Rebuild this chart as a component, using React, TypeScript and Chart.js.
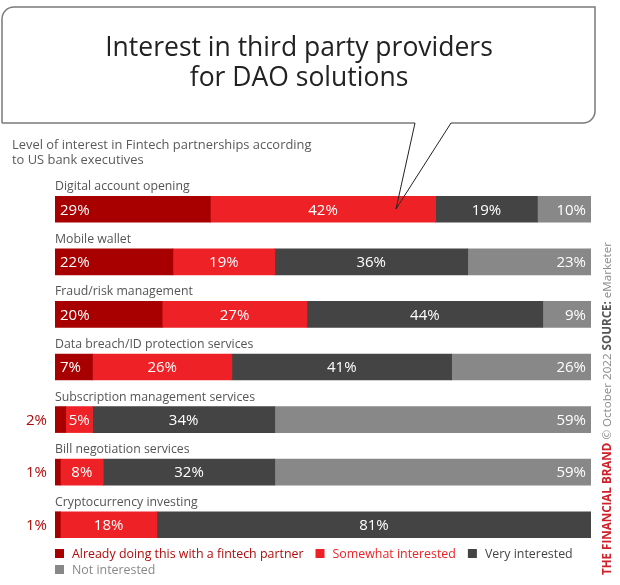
import React, { useEffect, useRef } from "react";
import { Chart, registerables } from "chart.js";

Chart.register(...registerables);

const categories = [
  "Digital account opening",
  "Mobile wallet",
  "Fraud/risk management",
  "Data breach/ID protection services",
  "Subscription management services",
  "Bill negotiation services",
  "Cryptocurrency investing",
];
const alreadyDoing = [29, 22, 20, 7, 2, 1, 1];
const somewhatInterested = [42, 19, 27, 26, 5, 8, 18];
const veryInterested = [19, 36, 44, 41, 34, 32, 81];
const notInterested = [10, 23, 9, 26, 59, 59, 0];
const seriesNames = [
  "Already doing this with a fintech partner",
  "Somewhat interested",
  "Very interested",
  "Not interested",
];
const seriesColors = ["#a80000", "#ee2226", "#444444", "#888888"];
const titleLines = ["Interest in third party providers", "for DAO solutions"];
const subtitleLines = [
  "Level of interest in Fintech partnerships according",
  "to US bank executives",
];
const sourceParts = [
  { text: "THE FINANCIAL BRAND", bold: true, color: "#d0202a" },
  { text: " \u00A9 October 2022 ", bold: false, color: "#8a8a8a" },
  { text: "SOURCE:", bold: true, color: "#555555" },
  { text: " eMarketer", bold: false, color: "#8a8a8a" },
];

const FONT = '"Open Sans", "DejaVu Sans", sans-serif';

export default function App() {
  const ref = useRef<HTMLCanvasElement>(null);

  useEffect(() => {
    document.body.style.margin = "0";
    const canvas = ref.current!;
    const values = [alreadyDoing, somewhatInterested, veryInterested, notInterested];

    const overlay = {
      id: "overlay",
      afterDatasetsDraw(chart: any) {
        const ctx: CanvasRenderingContext2D = chart.ctx;
        const area = chart.chartArea;
        ctx.save();

        // Speech bubble
        const L = 2, T = 7, R = 595, B = 123, r = 12;
        ctx.strokeStyle = "#7a7a7a";
        ctx.lineWidth = 1.5;
        ctx.beginPath();
        ctx.moveTo(L, B);
        ctx.lineTo(L, T + r);
        ctx.arcTo(L, T, L + r, T, r);
        ctx.lineTo(R, T);
        ctx.lineTo(R, B - r);
        ctx.arcTo(R, B, R - r, B, r);
        ctx.lineTo(451, B);
        ctx.stroke();
        ctx.beginPath();
        ctx.moveTo(415, B);
        ctx.lineTo(L, B);
        ctx.stroke();
        ctx.strokeStyle = "#222222";
        ctx.lineWidth = 1;
        ctx.beginPath();
        ctx.moveTo(451, B);
        ctx.lineTo(396, 209);
        ctx.lineTo(415, B);
        ctx.stroke();

        // Title
        ctx.fillStyle = "#222222";
        ctx.font = `400 26.5px ${FONT}`;
        ctx.textAlign = "center";
        ctx.textBaseline = "middle";
        titleLines.forEach((t, i) => ctx.fillText(t, 299, 48 + i * 30));

        // Subtitle
        ctx.fillStyle = "#5a5a5a";
        ctx.font = `400 12.9px ${FONT}`;
        ctx.textAlign = "left";
        subtitleLines.forEach((t, i) => ctx.fillText(t, 12, 145 + i * 15));

        // Category labels and data labels
        const metas = values.map((_, d) => chart.getDatasetMeta(d));
        categories.forEach((cat, i) => {
          const el0 = metas[0].data[i] as any;
          ctx.fillStyle = "#555555";
          ctx.font = `400 12.3px ${FONT}`;
          ctx.textAlign = "left";
          ctx.textBaseline = "middle";
          ctx.fillText(cat, area.left, el0.y - 22.5);

          ctx.font = `400 15px ${FONT}`;
          values.forEach((series, d) => {
            const v = series[i];
            if (!v) return;
            const el = metas[d].data[i] as any;
            const start = Math.min(el.base, el.x);
            const end = Math.max(el.base, el.x);
            const label = `${v}%`;
            ctx.fillStyle = "#ffffff";
            if (d === 0) {
              if (v < 5) {
                ctx.fillStyle = "#b00a0a";
                ctx.textAlign = "right";
                ctx.fillText(label, area.left - 8, el.y + 1);
              } else {
                ctx.textAlign = "left";
                ctx.fillText(label, start + 5, el.y + 1);
              }
            } else if (d === values.length - 1) {
              ctx.textAlign = "right";
              ctx.fillText(label, end - 5, el.y + 1);
            } else {
              ctx.textAlign = "center";
              ctx.fillText(label, (start + end) / 2, el.y + 1);
            }
          });
        });

        // Legend
        ctx.font = `400 12.4px ${FONT}`;
        ctx.textAlign = "left";
        ctx.textBaseline = "middle";
        let lx = area.left;
        let ly = 554;
        seriesNames.forEach((name, d) => {
          const w = ctx.measureText(name).width;
          if (lx + 17 + w > area.right) {
            lx = area.left;
            ly += 16;
          }
          ctx.fillStyle = seriesColors[d];
          ctx.fillRect(lx, ly - 5, 9, 9);
          ctx.fillStyle = d === 0 ? "#b00a0a" : seriesColors[d];
          ctx.fillText(name, lx + 17, ly);
          lx += 17 + w + 12;
        });

        // Vertical source text
        ctx.translate(608, 575);
        ctx.rotate(-Math.PI / 2);
        let sx = 0;
        sourceParts.forEach((p) => {
          ctx.font = `${p.bold ? 700 : 400} 11.6px ${FONT}`;
          ctx.fillStyle = p.color;
          ctx.textAlign = "left";
          ctx.fillText(p.text, sx, 0);
          sx += ctx.measureText(p.text).width;
        });

        ctx.restore();
      },
    };

    const chart = new Chart(canvas, {
      type: "bar",
      data: {
        labels: categories,
        datasets: values.map((data, d) => ({
          label: seriesNames[d],
          data,
          backgroundColor: seriesColors[d],
          borderWidth: 0,
          barThickness: 26,
        })),
      },
      options: {
        indexAxis: "y",
        responsive: false,
        animation: false,
        layout: { padding: { left: 55, right: 29, top: 183, bottom: 34 } },
        scales: {
          x: { stacked: true, min: 0, max: 100, display: false },
          y: { stacked: true, display: false },
        },
        plugins: {
          legend: { display: false },
          tooltip: { enabled: false },
          title: { display: false },
        },
      },
      plugins: [overlay],
    } as any);

    return () => chart.destroy();
  }, []);

  return (
    <canvas
      ref={ref}
      width={620}
      height={585}
      style={{ display: "block", width: 620, height: 585 }}
    />
  );
}
